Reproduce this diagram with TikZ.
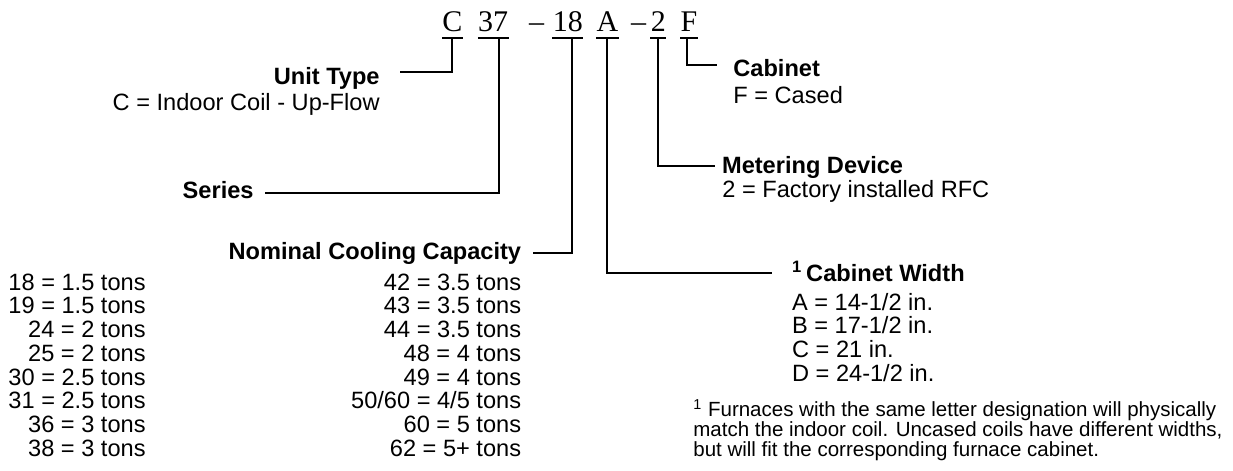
\documentclass[tikz,border=0pt]{standalone}
\usepackage{fontspec}
\setmainfont{Liberation Sans}
\newfontfamily\codefont{Liberation Serif}
\usepackage{tikz}
\usetikzlibrary{positioning}

\begin{document}
\begin{tikzpicture}[
  x=0.5pt, y=-0.5pt,
  code/.style={font=\codefont\fontsize{15}{15}\selectfont, inner sep=0pt,
               anchor=base west, text depth=3pt},
  head/.style={font=\fontsize{11.8}{11.85}\selectfont\bfseries, inner sep=0pt},
  val/.style={font=\fontsize{11.8}{11.85}\selectfont, inner sep=0pt},
  note/.style={font=\fontsize{10.25}{10}\selectfont, inner sep=0pt, anchor=base west},
  link/.style={line width=1pt}
]
  \useasboundingbox (0,0) rectangle (1233,471);

  % model number
  \node[code] (cC) at (442,32) {C};
  \node[code, base right=7.5pt of cC]  (c37)    {37};
  \node[code, base right=10pt of c37]  (cDashA) {–};
  \node[code, base right=4pt of cDashA] (c18)   {18};
  \node[code, base right=6.5pt of c18] (cA)     {A};
  \node[code, base right=6pt of cA]    (cDashB) {–};
  \node[code, base right=2pt of cDashB] (c2)    {2};
  \node[code, base right=7pt of c2]    (cF)     {F};
  \foreach \n in {cC,c37,c18,cA,c2,cF}
    \draw[link] (\n.south west) -- (\n.south east);

  % left side
  \node[head, anchor=base east] (hUnit) at (380,84.5) {Unit Type};
  \node[val, anchor=base east]  (vUnit) at (380,110) {C = Indoor Coil - Up-Flow};
  \draw[link] (cC.south) |- ([shift={(20,-13)}]hUnit.base east);

  \node[head, anchor=base east] (hSeries) at (254,198) {Series};
  \draw[link] ([xshift=3pt]c37.south) |- ([shift={(11,-5)}]hSeries.base east);

  \node[head, anchor=base east] (hCap) at (521.5,259.5) {Nominal Cooling Capacity};
  \draw[link] ([xshift=2pt]c18.south) |- ([shift={(11,-7)}]hCap.base east);
  \foreach \t [count=\i] in {18 = 1.5 tons, 19 = 1.5 tons, 24 = 2 tons, 25 = 2 tons,
                            30 = 2.5 tons, 31 = 2.5 tons, 36 = 3 tons, 38 = 3 tons}
    \node[val, anchor=base east] (capL\i) at (146,{290+23.75*(\i-1)}) {\t};
  \foreach \t [count=\i] in {42 = 3.5 tons, 43 = 3.5 tons, 44 = 3.5 tons, 48 = 4 tons,
                            49 = 4 tons, {50/60 = 4/5 tons}, 60 = 5 tons, 62 = 5+ tons}
    \node[val, anchor=base east] (capR\i) at (521.5,{290+23.75*(\i-1)}) {\t};

  % right side
  \node[head, anchor=base west] (hCab) at (733,76.7) {Cabinet};
  \node[val, anchor=base west]  (vCab) at (733,103.3) {F = Cased};
  \draw[link] ([xshift=-1pt]cF.south) |- ([shift={(-16,-11.7)}]hCab.base west);

  \node[head, anchor=base west] (hMeter) at (721.7,173.7) {Metering Device};
  \node[val, anchor=base west]  (vMeter) at (722,197.7) {2 = Factory installed RFC};
  \draw[link] (c2.south) |- ([shift={(-6.7,-8)}]hMeter.base west);

  \node[head, anchor=base west] (hWidth) at (791.7,281.7) {\textsuperscript{1}\,Cabinet Width};
  \draw[link] (cA.south) |- ([shift={(-20,-8.4)}]hWidth.base west);
  \foreach \t [count=\i] in {{A = 14-1/2 in.}, {B = 17-1/2 in.}, {C = 21 in.}, {D = 24-1/2 in.}}
    \node[val, anchor=base west] (wid\i) at (791.7,{310+23.7*(\i-1)}) {\t};

  \node[note] (fn1) at (693,416.7) {\textsuperscript{1} Furnaces with the same letter designation will physically};
  \node[note] (fn2) at (693,436.7) {match the indoor coil. Uncased coils have different widths,};
  \node[note] (fn3) at (693,456.7) {but will fit the corresponding furnace cabinet.};
\end{tikzpicture}
\end{document}
